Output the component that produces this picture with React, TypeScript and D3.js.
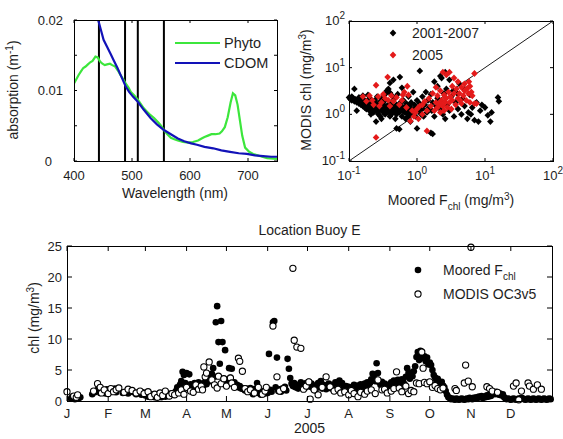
import React from "react";
import * as d3 from "d3";

// ---------- top left: absorption spectra ----------
const phytoWl = [400, 404, 408, 412, 416, 420, 424, 428, 432, 437, 441, 445, 449, 453, 457, 462, 466, 471, 476, 480, 485, 489, 494, 498, 504, 510, 515, 520, 526, 532, 538, 545, 550, 555, 561, 567, 573, 579, 588, 597, 605, 614, 620, 625, 631, 637, 644, 651, 655, 660, 665, 670, 674, 678, 682, 686, 690, 695, 702, 709, 720, 733, 750];
const phytoAbs = [0.011, 0.0116, 0.0122, 0.0127, 0.0132, 0.0134, 0.0137, 0.014, 0.0142, 0.0148, 0.0147, 0.0141, 0.0138, 0.0136, 0.0137, 0.0138, 0.0136, 0.0134, 0.0128, 0.0122, 0.0116, 0.011, 0.0104, 0.0098, 0.0093, 0.0087, 0.0081, 0.0075, 0.007, 0.0065, 0.0061, 0.0055, 0.005, 0.0044, 0.0038, 0.0033, 0.0031, 0.0029, 0.0027, 0.0026, 0.0027, 0.0029, 0.0032, 0.0034, 0.0036, 0.0038, 0.0038, 0.0039, 0.0042, 0.0048, 0.0062, 0.0083, 0.0096, 0.0093, 0.008, 0.0058, 0.0036, 0.0019, 0.0013, 0.001, 0.0007, 0.0004, 0.0003];
const cdomWl = [440, 443, 447, 451, 457, 463, 469, 475, 482, 489, 495, 502, 510, 520, 532, 543, 555, 567, 579, 590, 602, 612, 625, 640, 654, 669, 684, 698, 712, 726, 740, 750];
const cdomAbs = [0.0205, 0.0196, 0.0184, 0.0172, 0.0162, 0.0152, 0.0142, 0.0132, 0.0119, 0.0106, 0.0098, 0.0091, 0.0084, 0.0073, 0.0061, 0.0052, 0.0044, 0.0038, 0.0032, 0.0028, 0.0025, 0.0023, 0.002, 0.0018, 0.0015, 0.0013, 0.0011, 0.001, 0.0008, 0.0007, 0.0006, 0.0006];
const modisBands = [443, 488, 510, 555];

// ---------- top right: MODIS vs moored matchups [moored, modis] ----------
const matchAll = [
  [0.1, 2.3], [0.105, 2.1], [0.11, 2.4], [0.11, 2.0], [0.115, 2.2], [0.12, 1.9], [0.12, 3.5], [0.125, 2.1], [0.13, 1.8], [0.13, 1.2],
  [0.135, 2.0], [0.14, 1.7], [0.14, 2.3], [0.145, 1.9], [0.15, 1.6], [0.15, 2.1], [0.155, 1.8], [0.16, 1.5], [0.16, 2.5], [0.165, 1.7],
  [0.17, 1.4], [0.17, 2.0], [0.175, 1.6], [0.18, 1.9], [0.18, 1.3], [0.185, 1.5], [0.19, 1.7], [0.19, 2.6], [0.2, 1.4], [0.2, 1.2],
  [0.2, 2.2], [0.21, 1.6], [0.21, 1.0], [0.22, 1.3], [0.22, 1.8], [0.23, 1.5], [0.23, 1.1], [0.24, 1.4], [0.24, 2.0], [0.25, 0.7],
  [0.25, 1.2], [0.25, 1.7], [0.26, 1.3], [0.26, 2.4], [0.27, 1.5], [0.27, 1.0], [0.28, 1.2], [0.28, 1.8], [0.29, 1.4], [0.29, 0.9],
  [0.3, 1.3], [0.3, 0.8], [0.3, 2.2], [0.31, 1.6], [0.32, 1.1], [0.32, 1.4], [0.33, 1.9], [0.33, 1.2], [0.34, 1.0], [0.35, 1.5],
  [0.35, 2.8], [0.36, 1.3], [0.36, 3.2], [0.37, 1.1], [0.38, 1.6], [0.38, 3.5], [0.39, 1.2], [0.4, 1.4], [0.4, 2.9], [0.4, 0.9],
  [0.4, 4.7], [0.42, 1.0], [0.42, 1.8], [0.43, 2.5], [0.44, 1.2], [0.45, 5.5], [0.45, 1.5], [0.46, 1.1], [0.47, 2.2], [0.48, 1.3],
  [0.48, 0.8], [0.5, 0.5], [0.5, 1.6], [0.5, 1.0], [0.52, 1.2], [0.52, 2.7], [0.56, 6.3], [0.54, 1.4], [0.55, 0.48], [0.55, 1.1],
  [0.57, 1.8], [0.58, 1.3], [0.6, 0.9], [0.6, 1.5], [0.6, 3.7], [0.62, 1.2], [0.63, 2.0], [0.65, 1.1], [0.66, 1.4], [0.68, 0.8],
  [0.7, 1.3], [0.7, 1.7], [0.72, 1.0], [0.74, 1.2], [0.75, 2.4], [0.76, 0.9], [0.78, 1.5], [0.8, 0.7], [0.8, 1.1], [0.82, 1.8],
  [0.84, 1.3], [0.86, 1.0], [0.88, 3.0], [0.9, 1.2], [0.92, 1.6], [0.95, 0.9], [0.97, 1.4], [1.0, 0.5], [1.0, 2.0], [1.05, 1.2],
  [1.1, 8.5], [1.1, 1.7], [1.15, 1.0], [1.2, 2.4], [1.2, 1.3], [1.25, 0.9], [1.3, 1.6], [1.35, 3.0], [1.4, 1.1], [1.45, 2.0],
  [1.6, 0.4], [1.5, 1.4], [1.7, 0.38], [1.6, 2.7], [1.65, 1.2], [1.7, 1.8], [1.8, 5.0], [1.8, 0.9], [1.9, 1.5], [2.0, 2.2],
  [2.0, 4.0], [2.2, 6.6], [2.6, 8.0], [2.2, 1.3], [2.3, 6.0], [2.4, 1.0], [2.5, 2.8], [2.6, 0.8], [2.7, 3.5], [2.8, 1.6],
  [3.0, 5.5], [3.0, 1.2], [3.2, 2.4], [3.4, 3.2], [3.5, 0.9], [3.7, 1.8], [3.9, 2.8], [4.0, 1.3], [4.2, 4.5], [4.5, 1.0],
  [4.7, 2.2], [5.0, 1.5], [5.0, 3.5], [5.5, 0.8], [5.7, 1.1], [6.0, 2.6], [6.2, 1.0], [6.5, 1.4], [7.0, 0.75], [7.5, 1.8],
  [8.0, 0.7], [8.5, 1.2], [9.0, 1.6], [10.0, 1.4], [11.0, 0.95], [12.0, 0.7], [12.5, 1.1], [15.5, 2.3], [16.0, 1.9],
];
const match2005 = [
  [0.25, 0.32], [0.25, 4.2], [0.22, 2.0], [0.23, 1.6], [0.27, 2.4], [0.3, 1.8], [0.32, 2.7], [0.34, 2.2], [0.37, 6.3], [0.38, 2.0],
  [0.4, 1.5], [0.42, 2.5], [0.45, 1.9], [0.5, 2.3], [0.55, 1.6], [0.6, 2.0], [0.65, 3.0], [0.7, 1.4], [0.75, 2.6], [0.8, 0.72],
  [0.85, 1.2], [0.9, 0.9], [0.95, 1.1], [1.0, 1.3], [1.05, 0.8], [1.1, 1.5], [1.2, 1.0], [1.3, 1.9], [1.4, 0.44], [1.4, 1.2],
  [1.5, 2.2], [1.6, 1.5], [1.7, 2.8], [1.8, 1.2], [1.9, 1.8], [2.0, 2.5], [2.0, 1.4], [2.1, 1.7], [2.2, 3.2], [2.2, 1.1],
  [2.3, 2.0], [2.4, 1.5], [2.4, 8.0], [2.5, 2.6], [2.5, 1.2], [2.6, 1.8], [2.7, 7.0], [2.7, 2.2], [2.8, 1.4], [2.9, 3.0],
  [3.0, 1.8], [3.0, 8.0], [3.1, 2.4], [3.2, 1.3], [3.3, 2.0], [3.5, 2.8], [3.5, 6.0], [3.7, 1.6], [3.8, 3.5], [4.0, 2.2],
  [4.0, 5.0], [4.2, 2.8], [4.5, 1.7], [4.5, 3.8], [4.8, 2.5], [5.0, 3.2], [5.0, 4.5], [5.3, 2.0], [5.5, 3.6], [5.7, 2.8],
  [6.0, 4.0], [6.0, 1.8], [6.3, 3.0], [6.5, 2.5], [7.0, 7.5], [7.0, 1.7], [7.5, 1.7], [0.16, 2.4], [0.18, 1.9], [0.2, 2.5],
  [0.28, 1.5], [0.62, 2.6], [0.72, 4.0], [1.9, 3.8], [3.3, 4.0], [4.3, 2.0], [5.8, 5.0], [2.3, 1.6], [2.6, 2.3], [1.2, 1.6],
];

// ---------- bottom: 2005 time series at Buoy E [day of year, chl] ----------
const mooredChl = [
  [3, 0.4], [4, 0.7], [5, 0.5], [6, 0.3], [7, 0.6], [8, 0.9], [9, 0.5], [10, 0.6],
  [19, 1.1], [21, 1.4], [23, 1.8], [25, 1.3], [27, 1.6], [29, 1.2], [30, 1.9], [32, 1.5], [34, 1.7], [36, 2.0], [37, 1.4],
  [42, 1.3], [44, 1.5], [46, 1.2], [48, 1.6], [50, 1.4], [52, 1.1], [54, 1.3], [56, 1.0], [57, 1.4], [59, 0.9],
  [60, 1.0], [61, 0.7], [62, 1.2], [63, 0.8], [64, 0.9], [65, 1.1], [66, 0.6], [67, 0.8], [68, 1.0], [69, 0.7], [70, 0.9],
  [71, 0.6], [72, 0.8], [73, 1.0], [74, 0.7], [75, 0.9], [76, 1.1], [77, 0.8], [78, 1.2], [79, 1.0], [80, 1.3], [81, 1.1],
  [82, 1.6], [83, 2.2], [84, 1.8], [85, 2.6], [86, 3.2], [87, 4.7], [88, 4.2], [89, 2.9], [90, 4.5], [91, 2.4], [92, 4.3],
  [93, 2.7], [94, 2.2], [95, 2.5], [96, 2.9], [97, 2.3], [98, 2.6], [99, 3.0], [100, 2.4], [101, 2.8], [102, 2.2], [103, 2.6],
  [104, 3.1], [105, 2.7], [106, 3.4], [107, 3.8], [108, 3.2], [109, 4.4], [110, 5.3], [111, 3.9], [112, 12.7], [113, 15.3],
  [114, 9.5], [115, 6.0], [116, 12.9], [117, 9.5], [118, 3.6], [119, 8.2], [120, 3.4], [121, 2.9], [122, 5.3], [123, 3.8],
  [124, 5.2], [125, 2.7], [126, 3.0], [127, 2.5], [128, 2.6], [129, 2.2], [130, 2.4], [131, 2.0], [132, 2.1], [133, 1.9],
  [134, 1.7], [135, 2.0], [136, 1.8], [137, 1.6], [138, 2.1], [139, 1.4], [140, 1.1], [141, 1.7], [142, 2.0], [143, 2.9],
  [144, 1.5], [145, 1.2], [146, 1.0], [147, 1.4], [148, 1.6], [149, 1.2], [150, 1.9], [151, 1.3], [152, 7.6], [153, 1.8],
  [154, 1.5], [155, 12.7], [156, 12.9], [157, 2.2], [158, 7.0], [159, 1.6], [160, 1.9], [161, 1.5], [162, 2.0], [163, 1.8],
  [164, 2.3], [165, 1.7], [166, 6.8], [167, 5.2], [168, 3.7], [169, 2.8], [170, 2.4], [171, 2.9], [172, 2.2], [173, 2.6],
  [174, 2.0], [175, 2.4], [176, 3.0], [177, 2.5], [178, 2.7], [179, 2.1], [180, 2.9], [181, 2.6], [182, 3.1], [183, 2.3],
  [184, 2.8], [185, 2.1], [186, 2.5], [187, 1.7], [188, 2.2], [189, 2.9], [190, 2.4], [191, 3.2], [192, 2.0], [193, 2.6],
  [194, 2.3], [195, 1.9], [196, 2.5], [197, 2.8], [198, 2.2], [199, 2.0], [200, 2.6], [201, 2.4], [202, 3.0], [203, 2.1],
  [204, 2.5], [205, 3.3], [206, 2.7], [207, 2.9], [208, 2.2], [209, 1.8], [210, 2.4], [211, 2.0], [212, 2.3], [213, 1.7],
  [214, 2.1], [215, 1.9], [216, 2.6], [217, 2.2], [218, 1.8], [219, 2.5], [220, 2.0], [221, 2.7], [222, 2.3], [223, 1.9],
  [224, 2.8], [225, 2.4], [226, 3.0], [227, 2.6], [228, 2.9], [229, 3.5], [230, 4.4], [231, 4.2], [232, 3.2], [233, 6.1],
  [234, 4.5], [235, 3.0], [236, 2.6], [237, 3.1], [238, 2.4], [239, 2.8], [240, 2.2], [241, 2.6], [242, 2.0], [243, 2.4],
  [244, 3.0], [245, 2.6], [246, 3.3], [247, 2.8], [248, 2.5], [249, 3.4], [250, 2.9], [251, 2.6], [252, 3.5], [253, 3.1],
  [254, 2.7], [255, 3.9], [256, 5.3], [257, 4.5], [258, 3.6], [259, 4.6], [260, 4.0], [261, 4.8], [262, 5.6], [263, 7.1],
  [264, 7.9], [265, 6.6], [266, 8.1], [267, 7.3], [268, 6.9], [269, 7.2], [270, 6.4], [271, 7.0], [272, 5.9], [273, 6.2],
  [274, 5.8], [275, 5.0], [276, 4.2], [277, 3.8], [278, 3.3], [279, 3.6], [280, 3.0], [281, 2.8], [282, 3.1], [283, 2.5],
  [284, 2.2], [285, 1.6], [286, 1.0], [287, 0.6], [288, 0.5], [289, 0.3], [290, 0.4], [291, 0.3], [292, 0.2], [293, 0.4],
  [294, 0.3], [295, 0.2], [296, 0.3], [297, 0.4], [298, 0.3], [299, 0.2], [300, 0.3], [301, 0.4], [302, 0.3], [303, 0.5],
  [304, 0.4], [305, 0.3], [306, 0.5], [307, 0.4], [308, 0.6], [309, 0.5], [310, 0.7], [311, 0.6], [312, 0.8], [313, 0.5],
  [314, 0.7], [315, 0.6], [316, 0.9], [317, 0.7], [318, 1.0], [319, 0.8], [320, 1.2], [321, 1.4], [322, 1.1], [323, 1.5],
  [324, 1.3], [325, 1.0], [326, 1.2], [327, 0.9], [328, 1.1], [329, 0.6], [330, 0.4], [331, 0.3], [332, 0.4], [333, 0.3],
  [334, 0.2], [335, 0.3], [336, 0.4], [337, 0.3], [338, 0.2], [339, 0.3], [340, 0.4], [341, 0.3], [342, 0.5], [343, 0.4],
  [344, 0.3], [345, 0.2], [346, 0.3], [347, 0.4], [348, 0.3], [349, 0.2], [350, 0.3], [351, 0.4], [352, 0.3], [353, 0.2],
  [354, 0.3], [355, 0.4], [356, 0.3], [357, 0.2], [358, 0.3], [359, 0.4], [360, 0.3], [361, 0.2], [362, 0.3], [363, 0.4], [364, 0.3],
];
const modisChl = [
  [0, 1.5], [5, 0.8], [7, 0.6], [8, 1.0],
  [20, 1.6], [23, 2.8], [25, 2.2], [26, 1.3], [28, 1.8], [31, 1.2], [33, 2.0], [35, 1.5], [37, 1.8], [39, 2.1],
  [43, 1.4], [46, 1.9], [49, 1.7], [52, 1.3], [55, 1.6], [58, 1.2],
  [61, 1.5], [63, 0.7], [66, 1.1], [68, 0.6], [70, 1.3], [72, 0.9], [74, 1.6], [77, 0.8], [79, 1.2], [81, 1.0],
  [84, 1.3], [86, 1.8], [88, 1.1], [90, 2.2], [93, 1.6], [95, 1.4], [97, 2.6], [99, 1.9], [101, 2.4], [102, 1.8],
  [103, 5.5], [104, 3.9], [105, 4.5], [107, 6.3], [109, 3.4], [111, 2.6], [113, 2.1], [114, 4.0], [116, 2.8], [118, 3.6],
  [120, 2.4], [123, 3.7], [124, 2.9], [126, 2.2], [129, 6.9], [130, 6.4], [132, 4.8], [134, 2.0], [136, 1.5], [138, 1.8],
  [141, 1.3], [144, 2.2], [147, 1.1], [149, 1.6], [150, 2.2], [155, 12.1], [158, 3.9], [160, 1.6], [163, 2.0],
  [170, 21.4], [171, 9.8], [173, 8.7], [176, 8.5], [178, 1.9], [180, 2.4],
  [182, 3.1], [183, 0.3], [186, 1.8], [189, 1.0], [192, 2.2], [195, 3.9], [198, 2.3], [201, 1.6], [204, 1.9], [206, 1.3],
  [209, 1.5], [212, 1.0], [214, 1.7], [216, 1.2], [219, 0.7], [221, 1.4], [224, 1.1], [226, 1.6], [229, 1.8], [232, 1.2],
  [234, 3.4], [237, 1.8], [239, 1.9], [241, 1.3], [244, 1.6], [246, 2.0], [248, 4.7], [250, 2.1], [252, 1.5], [255, 2.4],
  [257, 1.2], [259, 1.7], [261, 1.5], [263, 2.9], [265, 2.8], [267, 7.9], [268, 5.3], [269, 3.0], [271, 2.8], [273, 3.1],
  [275, 2.2], [277, 2.5], [279, 2.0], [281, 1.8], [283, 2.1],
  [292, 2.0], [293, 1.7], [299, 2.9], [300, 5.8], [302, 3.2], [304, 24.8], [305, 2.3], [316, 2.3], [318, 2.0], [320, 1.6],
  [324, 1.4], [336, 2.4], [338, 2.9], [340, 0.2], [342, 1.6], [347, 2.9], [348, 2.4], [351, 1.9], [354, 2.6], [357, 1.9],
];
const monthStarts = [0, 31, 59, 90, 120, 151, 181, 212, 243, 273, 304, 334];
const monthLabels = ["J", "F", "M", "A", "M", "J", "J", "A", "S", "O", "N", "D"];

const FONT = "'Liberation Sans', Arial, Helvetica, sans-serif";
const TXT = "#1e1e1e";
const GREEN = "#3ce63c";
const BLUE = "#1212b8";
const RED = "#e41a1a";
const DIAMOND = "M0,-3.4L3.3,0L0,3.4L-3.3,0Z";

export default function App() {
  // scales
  const xA = d3.scaleLinear().domain([400, 750]).range([74, 277]);
  const yA = d3.scaleLinear().domain([0, 0.02]).range([161, 20]);
  const xB = d3.scaleLog().domain([0.1, 100]).range([349, 553]);
  const yB = d3.scaleLog().domain([0.1, 100]).range([161, 21]);
  const xC = d3.scaleLinear().domain([0, 365]).range([67, 552]);
  const yC = d3.scaleLinear().domain([0, 25]).range([401, 246]);

  const lineA = d3.line<number>().x((d) => xA(d)).y(() => 0);
  const phytoPath = d3.line<number>()
    .x((_, i) => xA(phytoWl[i]))
    .y((d) => yA(d))(phytoAbs);
  const cdomPath = d3.line<number>()
    .x((_, i) => xA(cdomWl[i]))
    .y((d) => yA(d))(cdomAbs);
  void lineA;

  const [ax0, ax1] = xA.range();
  const [ay1, ay0] = yA.range();
  const [bx0, bx1] = xB.range();
  const [by1, by0] = yB.range();
  const [cx0, cx1] = xC.range();
  const [cy1, cy0] = yC.range();

  const decades = [0.1, 1, 10, 100];
  const decExp = ["-1", "0", "1", "2"];

  return (
    <svg width={563} height={439} style={{ position: "absolute", left: 0, top: 0, background: "#fff" }}
      fontFamily={FONT} fill={TXT}>
      <defs>
        <clipPath id="clipA">
          <rect x={ax0} y={ay0} width={ax1 - ax0} height={ay1 - ay0} />
        </clipPath>
      </defs>

      {/* ---------- panel A ---------- */}
      <g clipPath="url(#clipA)">
        {modisBands.map((w) => (
          <line key={w} x1={xA(w)} x2={xA(w)} y1={ay0} y2={ay1} stroke="#000" strokeWidth={2} />
        ))}
        <path d={phytoPath || ""} fill="none" stroke={GREEN} strokeWidth={2.2} />
        <path d={cdomPath || ""} fill="none" stroke={BLUE} strokeWidth={2.2} />
      </g>
      <rect x={ax0 + 0.5} y={ay0 + 0.5} width={ax1 - ax0} height={ay1 - ay0} fill="none" stroke="#000" strokeWidth={1} />
      {[400, 500, 600, 700].map((t) => (
        <g key={t}>
          <line x1={xA(t)} x2={xA(t)} y1={ay1} y2={ay1 - 3} stroke="#000" />
          <line x1={xA(t)} x2={xA(t)} y1={ay0} y2={ay0 + 3} stroke="#000" />
          <text x={xA(t)} y={180} textAnchor="middle" fontSize={13}>{t}</text>
        </g>
      ))}
      {[0, 0.005, 0.01, 0.015, 0.02].map((t) => (
        <g key={t}>
          <line x1={ax0} x2={ax0 + 3} y1={yA(t)} y2={yA(t)} stroke="#000" />
          <line x1={ax1} x2={ax1 - 3} y1={yA(t)} y2={yA(t)} stroke="#000" />
        </g>
      ))}
      {[0, 0.01, 0.02].map((t) => (
        <text key={t} x={t === 0 ? 52 : 63} y={yA(t)} dy="0.35em" textAnchor="end" fontSize={13}>
          {t === 0 ? "0" : t.toFixed(2)}
        </text>
      ))}
      <text x={175} y={198} textAnchor="middle" fontSize={14}>Wavelength (nm)</text>
      <text transform="translate(18,90) rotate(-90)" textAnchor="middle" fontSize={14}>
        absorption (m<tspan dy={-5} fontSize={10}>-1</tspan><tspan dy={5}>)</tspan>
      </text>
      <line x1={175} x2={220} y1={43} y2={43} stroke={GREEN} strokeWidth={2.2} />
      <text x={224} y={48} fontSize={14.5}>Phyto</text>
      <line x1={175} x2={220} y1={63} y2={63} stroke={BLUE} strokeWidth={2.2} />
      <text x={224} y={68} fontSize={14.5}>CDOM</text>

      {/* ---------- panel B ---------- */}
      <line x1={xB(0.1)} y1={yB(0.1)} x2={xB(100)} y2={yB(100)} stroke="#000" strokeWidth={0.9} />
      {matchAll.map(([m, s], i) => (
        <path key={"k" + i} d={DIAMOND} transform={`translate(${xB(m)},${yB(s)})`} fill="#000" />
      ))}
      {match2005.map(([m, s], i) => (
        <path key={"r" + i} d={DIAMOND} transform={`translate(${xB(m)},${yB(s)})`} fill={RED} />
      ))}
      <rect x={bx0 + 0.5} y={by0 + 0.5} width={bx1 - bx0} height={by1 - by0} fill="none" stroke="#000" strokeWidth={1} />
      {decades.map((t, i) => (
        <g key={t}>
          <line x1={xB(t)} x2={xB(t)} y1={by1} y2={by1 - 3} stroke="#000" />
          <line x1={xB(t)} x2={xB(t)} y1={by0} y2={by0 + 3} stroke="#000" />
          <line x1={bx0} x2={bx0 + 3} y1={yB(t)} y2={yB(t)} stroke="#000" />
          <line x1={bx1} x2={bx1 - 3} y1={yB(t)} y2={yB(t)} stroke="#000" />
          <text x={xB(t)} y={180} textAnchor="middle" fontSize={13}>
            10<tspan dy={-6} fontSize={10}>{decExp[i]}</tspan>
          </text>
          <text x={345} y={yB(t) + 4} textAnchor="end" fontSize={13}>
            10<tspan dy={-6} fontSize={10}>{decExp[i]}</tspan>
          </text>
        </g>
      ))}
      <text x={451} y={205} textAnchor="middle" fontSize={14}>
        Moored F<tspan dy={5} fontSize={10}>chl</tspan><tspan dy={-5}> (mg/m</tspan>
        <tspan dy={-5} fontSize={10}>3</tspan><tspan dy={5}>)</tspan>
      </text>
      <text transform="translate(311,90) rotate(-90)" textAnchor="middle" fontSize={14}>
        MODIS chl (mg/m<tspan dy={-5} fontSize={10}>3</tspan><tspan dy={5}>)</tspan>
      </text>
      <path d={DIAMOND} transform="translate(393,33)" fill="#000" />
      <text x={412} y={38} fontSize={14}>2001-2007</text>
      <path d={DIAMOND} transform="translate(393,55)" fill={RED} />
      <text x={412} y={60} fontSize={14}>2005</text>

      {/* ---------- panel C ---------- */}
      <text x={(cx0 + cx1) / 2} y={235} textAnchor="middle" fontSize={14}>Location Buoy E</text>
      {mooredChl.map(([d, v], i) => (
        <circle key={"m" + i} cx={xC(d)} cy={yC(v)} r={3.3} fill="#000" />
      ))}
      {modisChl.map(([d, v], i) => (
        <circle key={"o" + i} cx={xC(d)} cy={yC(v)} r={3.1} fill="#fff" stroke="#000" strokeWidth={1.1} />
      ))}
      <rect x={cx0 + 0.5} y={cy0 + 0.5} width={cx1 - cx0} height={cy1 - cy0} fill="none" stroke="#000" strokeWidth={1} />
      {monthStarts.map((d, i) => (
        <g key={i}>
          <line x1={xC(d)} x2={xC(d)} y1={cy1} y2={cy1 - 5} stroke="#000" />
          <line x1={xC(d)} x2={xC(d)} y1={cy0} y2={cy0 + 5} stroke="#000" />
          <text x={xC(d)} y={418} textAnchor="middle" fontSize={13}>{monthLabels[i]}</text>
        </g>
      ))}
      {d3.range(0, 26, 5).map((t) => (
        <g key={t}>
          <line x1={cx0} x2={cx0 + 5} y1={yC(t)} y2={yC(t)} stroke="#000" />
          <line x1={cx1} x2={cx1 - 5} y1={yC(t)} y2={yC(t)} stroke="#000" />
          <text x={62} y={yC(t)} dy="0.35em" textAnchor="end" fontSize={13}>{t}</text>
        </g>
      ))}
      <text x={(cx0 + cx1) / 2} y={433} textAnchor="middle" fontSize={14}>2005</text>
      <text transform="translate(39,318) rotate(-90)" textAnchor="middle" fontSize={14}>
        chl (mg/m<tspan dy={-5} fontSize={10}>3</tspan><tspan dy={5}>)</tspan>
      </text>
      <circle cx={418} cy={270} r={3.3} fill="#000" />
      <text x={443} y={275} fontSize={14}>
        Moored F<tspan dy={5} fontSize={10}>chl</tspan>
      </text>
      <circle cx={418} cy={294} r={3.1} fill="#fff" stroke="#000" strokeWidth={1.1} />
      <text x={443} y={299} fontSize={14}>MODIS OC3v5</text>
    </svg>
  );
}
